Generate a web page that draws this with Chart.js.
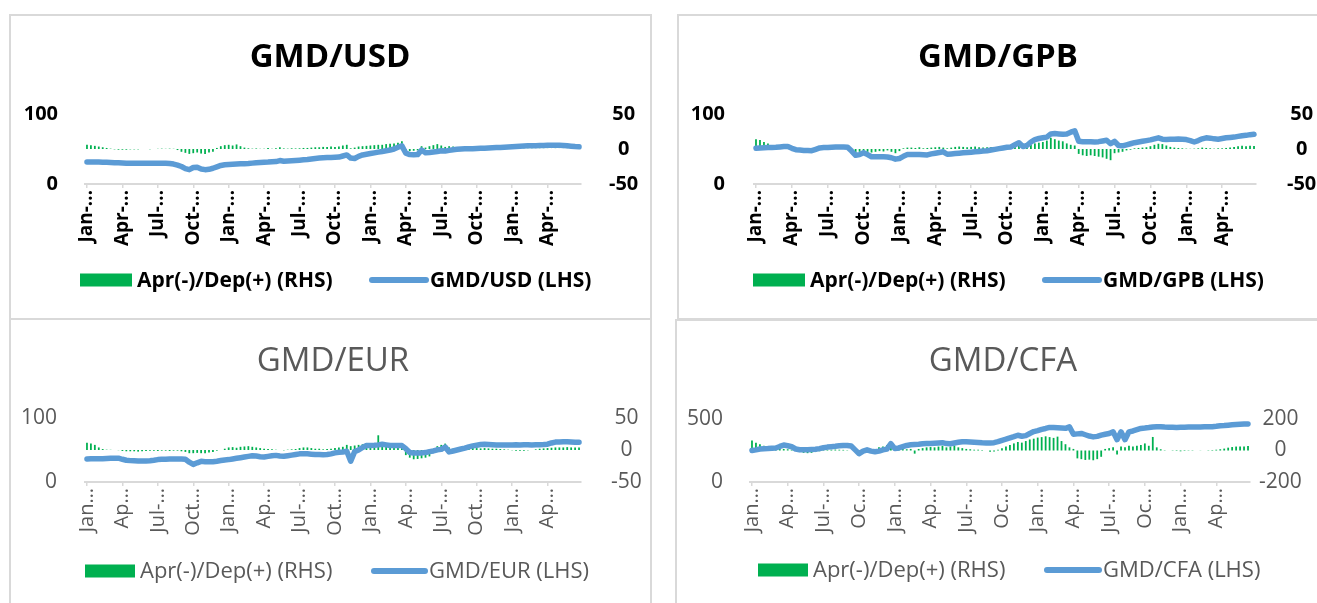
<!DOCTYPE html>
<html><head><meta charset="utf-8">
<script src="https://cdn.jsdelivr.net/npm/chart.js@4.4.1/dist/chart.umd.min.js"></script>
<style>
html,body{margin:0;padding:0;background:#fff;width:1317px;height:603px;overflow:hidden;position:relative}
.panel{position:absolute;box-sizing:border-box;border:2px solid #d9d9d9;background:#fff}
canvas{position:absolute}
</style></head><body>
<div class="panel" style="left:9px;top:14px;width:643px;height:306px"></div>
<div class="panel" style="left:677px;top:14px;width:660px;height:306px"></div>
<div class="panel" style="left:9px;top:318px;width:643px;height:300px"></div>
<div class="panel" style="left:675px;top:319px;width:660px;height:300px"></div>
<canvas id="c1" width="643" height="304" style="left:9px;top:14px"></canvas>
<canvas id="c2" width="641" height="304" style="left:677px;top:14px"></canvas>
<canvas id="c3" width="643" height="290" style="left:9px;top:318px"></canvas>
<canvas id="c4" width="643" height="290" style="left:675px;top:319px"></canvas>
<script>
// ---------- categories: 3 observations per month, Jan (year 1) to Jun (year 4) ----------
const monthNames = ['Jan','Feb','Mar','Apr','May','Jun','Jul','Aug','Sep','Oct','Nov','Dec'];
const categories = [];
for (let mi = 0; mi < 42; mi++) {
  for (let k = 1; k <= 3; k++) {
    categories.push(monthNames[mi % 12] + '-Y' + (1 + Math.floor(mi / 12)) + ' p' + k);
  }
}
// ---------- tick labels (every quarter) ----------
const ticksTop = ['Jan-…','Apr-…','Jul-…','Oct-…','Jan-…','Apr-…','Jul-…','Oct-…','Jan-…','Apr-…','Jul-…','Oct-…','Jan-…','Apr-…'];
const ticksEur = ['Jan…','Ap…','Jul-…','Oct…','Jan…','Ap…','Jul-…','Oct…','Jan…','Ap…','Jul-…','Oct…','Jan…','Ap…'];
const ticksCfa = ['Jan…','Ap…','Jul-…','Oc…','Jan…','Ap…','Jul-…','Oc…','Jan…','Ap…','Jul-…','Oc…','Jan…','Ap…'];

// ---------- GMD/USD ----------
const usdRate = [
31.5,31.5,31.4, 31.3,31.2,31, 30.8,30.5,30.2,
30,29.8,29.7, 29.7,29.6,29.6, 29.6,29.6,29.6, 29.6,29.5,29.5,
29.3,28.5,27, 25,22,20.5, 23.5,24,21.5, 20.5,21,22.5, 24.5,26.5,27.5,
28,28.3,28.5, 28.8,29,29.2, 29.8,30.5,30.8, 31,31.3,31.8, 32,33.5,32.5,
32.8,33.2,33.6, 34,34.5,35, 35.8,36.5,37, 37.5,37.8,38, 38.2,38.5,40,
41.5,37,36.5, 39.5,41.5,42.5, 43.5,44.5,45.5, 46.5,47.5,48.5, 50,52.5,54.5,
44,42,41.8, 42,48.5,44.5, 45,45.8,46.5, 47.5,47,48, 49,49.5,50,
50.2,50.3,50.5, 50.8,51,51.2, 51.5,51.8,52, 52.3,52.6,53, 53.3,53.6,54,
54.2,54.5,54.7, 54.8,55,55, 55.2,55.3,55.3, 55.2,55,54.5, 54,53.5,53.2];
const usdChange = [
6,5.5,4.5, 3.5,2.5,1.5, 0.5,-0.5,-1, -1,-1,-0.5, -0.5,-0.5,0, 0,-0.3,0,
0.3,0.5,0.3, 0.5,0.3,-1.5, -4,-5.5,-7, -6,-5,-6.5, -7,-5,-4, 1.5,4,5.5,
6,5,6.5, 4,2,1, 0.5,0.8,0.3, 0.5,1.5,0.5, 1,2.5,0.8, 0.5,1,0.8,
1,1.5,1.5, 2,2.5,2.5, 3,3,3.5, 3,3.5,5, 6,1,2, 3.5,4,4.5,
5,5.5,6, 6,7,7.5, 8,9,11, -2,-3,-2.5, -2,4,2, 4,5.5,7,
5,3,4, 3.5,3,2.5, 3,2.5,2, 1.5,1,1, 0.8,0.5,0.5, 0.3,0.5,0.3,
0.3,0.5,0.3, 0.2,0.3,0.3, 0.2,0.3,0.2, 0.2,0.1,0.2, 0.1,0.1,0.2, 0.1,0.2,0.1];

// ---------- GMD/GPB ----------
const gpbRate = [
51,51.5,51.8, 52,52.3,52.5, 53,53.5,53.5, 51,49,48.5, 48,47.8,47.6, 49.5,51.5,52,
52,52.5,52.8, 53,53,52.5, 47,41,42, 44.5,42,39, 38.8,39,38.8, 38.5,37.5,35.5,
36.5,39.5,42, 42,42.3,42, 41.8,41.5,43, 44,45,46, 42.5,43,43.5, 44,44.5,45,
45.5,46,46.5, 47,47.5,48.5, 49.5,50.5,51.5, 52.5,53,56, 59,53.5,55, 60,63.5,65,
66,67,71.5, 72,71.5,71, 71.5,74,76, 61,60.5,60.5, 60.3,60,60.5, 61.5,62.5,57.5,
61,55,54.5, 56,57.5,59, 60,61,62, 63,64.5,66, 64,63.5,63.8, 64,64.2,64,
63.5,62,60, 62,64.5,66, 65.5,64.5,64, 65,66,66.5, 67,68,69, 69.5,70.5,71];
const gpbChange = [
14,13,10, 8,4,2, 1,0.5,0.5, 0.3,0,-0.5, -0.5,-1,-1, 0.5,1,0.5,
0.5,0.3,0.5, 0.5,0.3,0, -3,-5,-4, -3,-4,-5, -4,-3,-3.5, -2,-4,-6,
-3,1,2, 2,1.5,2.5, 1,1.5,2, 2.5,3,2, 1,2,3, 3.5,3,2.5,
3,3.5,2.5, 2,2.5,3, 2,2,2.5, 2,3,4, 6,1,3, 6,8,9,
10,12,16, 14,12,11, 8,6,5, -7,-9,-10, -9,-10,-11, -12,-14,-16,
-6,-5,-4, -2,-1,1, 1.5,2,2.5, 4,6,7.5, 7,5,3, 2,1.5,1,
0.5,0.3,0.5, 1,2,1.5, 1,0.5,1, 1,1.5,2, 3,4,4.5, 4,4.5,4.3];

// ---------- GMD/EUR ----------
const eurRate = [
36,36.2,36.3, 36.4,36.5,36.8, 37,37.2,37.2, 35.5,34,33.4, 33.2,33,32.8, 32.8,33.2,34,
35,35.4,35.5, 35.8,36,36, 36,35.5,31, 27.5,30,32.3, 31.8,31.5,31.7, 32.5,33.5,34.5,
35,36,37, 38,39,40, 41,40.5,39.5, 39,40,41, 41.6,40.5,40.1, 41,42,43,
44,44.3,44, 43.5,43,42.8, 42.7,43,44, 45.5,46.4,47, 47.9,32.5,47.5, 50,54,56.9,
57.2,57.5,58, 59.1,58,57, 57,57.2,57, 52,46,45.3, 45.3,45.5,46, 47.5,48.5,50.3,
51,54.7,47, 48.5,50,51.5, 53,55,56.5, 57.5,58.5,58.9, 58.5,58.2,58, 57.8,58,57.9,
58,58.1,58, 58.2,58.3,58, 58.2,58.3,58.5, 59,61,62.4, 62.6,62.8,63, 62.5,62,62];
const eurChange = [
11.5,10,8, 4,1.5,0.5, 0.3,0,-0.3, -1.5,-2,-2, -2,-2.5,-2, -1.5,-1,-1,
-1.5,-1,-1, -1.5,-1,-1, -2,-3,-5, -5,-4.5,-5, -5,-4,-3, -1,0,2,
4,4.5,3.5, 5,5.5,6, 5,4,3, 2,1.5,1, 0.5,0,-0.5, 0.5,1,1.5,
3,4,4, 3,2,2, 1,1.5,2, 3,4,5, 8,6,7, 8,9,9,
9,9,23, 9,8.5,9, 8,7,6, -8,-12,-14.5, -14,-13,-12, -10,-2,6,
8,10,4, 2,2,2.5, 3,3,3.5, 3,2.5,3, 2.5,2,2, 1.5,1,0.5,
-0.5,-1,-1, -1,-0.5,0, 1,2,2.5, 3,3.5,4, 4,4,4.5, 4,4,4];

// ---------- GMD/CFA ----------
const cfaRate = [
250,255,262, 264,265,268, 270,282,293, 288,280,262, 256,255,256, 258,260,265,
272,277,280, 283,287,290, 290,285,255, 225,245,255, 245,240,245, 255,261,304,
265,270,280, 290,295,298, 300,304,305, 306,308,310, 312,305,304, 310,315,320,
320,318,316, 314,311,310, 309,312,320, 331,340,350, 360,371,363, 368,385,400,
408,418,425, 433,432,430, 428,426,438, 379,382,385, 375,365,358, 362,372,379,
385,398,336, 398,336,398, 405,415,425, 428,432,437, 438,438,436, 435,434,433,
434,435,436, 436,437,437, 438,438,439, 442,446,448, 451,454,456, 458,460,461];
const cfaChange = [
64,50,40, 30,20,20, 15,10,10, 8,5,0, -10,-15,-17, -15,-10,-5,
3,5,5, 6,5,4, 2,0,-5, -10,-8,-10, -5,10,20, 25,35,43,
15,10,12, 8,10,-20, 10,15,20, 22,20,25, 30,20,25, 32,20,15,
10,8,5, 5,3,0, -8,-6,5, 15,25,35, 45,54,50, 60,70,75,
82,85,90, 85,80,88, 60,40,20, 10,-50,-55, -60,-58,-62, -55,-40,10,
15,20,-25, 25,20,30, 25,30,35, 45,30,86, 20,8,2, 0,-2,-3,
-5,-3,-2, -2,0,-1, 0,2,3, 5,8,12, 18,22,25, 25,26,28];

const seriesLabelsBar = 'Apr(-)/Dep(+) (RHS)';

// ---------- styling / layout ----------
const GREEN = '#00B050', BLUE = '#5B9BD5';
const FONT = "'Open Sans', 'Noto Sans', sans-serif";

const decor = {
  id: 'decor',
  afterDraw(chart, args, o) {
    const ctx = chart.ctx;
    ctx.save();
    ctx.fillStyle = o.color;
    ctx.font = o.titleFont;
    ctx.textAlign = 'center';
    ctx.textBaseline = 'middle';
    ctx.fillText(o.title, o.titleX, o.titleY);
    ctx.font = o.legendFont;
    ctx.textAlign = 'left';
    ctx.fillStyle = GREEN;
    ctx.fillRect(o.boxX, o.legY - 6.5, o.boxW, 13);
    ctx.fillStyle = o.color;
    ctx.fillText(chart.data.datasets[1].label, o.boxX + o.boxW + 5, o.legY + 1);
    ctx.strokeStyle = BLUE;
    ctx.lineWidth = 6;
    ctx.lineCap = 'round';
    ctx.beginPath();
    ctx.moveTo(o.lineX1, o.legY);
    ctx.lineTo(o.lineX2, o.legY);
    ctx.stroke();
    ctx.fillText(chart.data.datasets[0].label, o.lineX2 + 4, o.legY + 1);
    ctx.restore();
  }
};

function makeChart(p) {
  const bold = p.bold;
  const color = bold ? '#000000' : '#595959';
  const weight = bold ? 'bold' : 'normal';
  const ox = p.canvasX, oy = p.canvasY;
  const cw = p.w, ch = p.h;
  const tickCol = (c) => (c.index % 9 === 0 ? '#d9d9d9' : 'rgba(0,0,0,0)');
  new Chart(document.getElementById(p.id), {
    type: 'bar',
    data: {
      labels: categories,
      datasets: [
        { type: 'line', label: p.lineLabel, data: p.rate, yAxisID: 'y', order: 0,
          borderColor: BLUE, backgroundColor: BLUE, borderWidth: 5.5, pointRadius: 0,
          pointHoverRadius: 0, tension: 0, borderCapStyle: 'round', borderJoinStyle: 'round', fill: false },
        { type: 'bar', label: seriesLabelsBar, data: p.change, yAxisID: 'y1', order: 1,
          backgroundColor: GREEN, borderWidth: 0, barPercentage: 0.45, categoryPercentage: 1.0 }
      ]
    },
    options: {
      responsive: false, animation: false, devicePixelRatio: 1,
      layout: { padding: { top: p.areaT - oy, left: 0, right: 0, bottom: 0 } },
      plugins: {
        legend: { display: false }, title: { display: false }, tooltip: { enabled: false },
        decor: {
          color: color,
          title: p.title, titleFont: weight + ' ' + p.titleSize + 'px ' + FONT,
          titleX: p.titleX - ox, titleY: p.titleY - oy,
          legendFont: weight + ' ' + p.legendSize + 'px ' + FONT,
          boxX: p.boxX - ox, boxW: p.boxW, legY: p.legY - oy,
          lineX1: p.lineX1 - ox, lineX2: p.lineX2 - ox
        }
      },
      scales: {
        x: {
          type: 'category', offset: true,
          grid: { display: true, offset: false, drawOnChartArea: false, drawTicks: true, tickLength: 4,
                  color: tickCol, tickColor: tickCol, lineWidth: 1.5 },
          border: { display: true, color: '#d9d9d9', width: 2 },
          ticks: { autoSkip: false, minRotation: 90, maxRotation: 90, padding: 2,
                   color: color, font: { family: FONT, size: p.xTickSize, weight: weight },
                   callback: (v, i) => (i % 9 === 0 ? p.tickLabels[i / 9] : '') },
          afterFit: (s) => { s.height = (oy + ch) - p.areaB; }
        },
        y: {
          position: 'left', min: 0, max: p.lmax,
          ticks: { stepSize: p.lmax, padding: p.lpad, color: color, crossAlign: 'near',
                   font: { family: FONT, size: p.yTickSize, weight: weight } },
          grid: { display: false }, border: { display: false },
          afterFit: (s) => { s.width = p.areaL - ox; }
        },
        y1: {
          position: 'right', min: -p.rmax, max: p.rmax,
          ticks: { stepSize: p.rmax, padding: p.rpad, color: color, crossAlign: 'center',
                   font: { family: FONT, size: p.yTickSize, weight: weight } },
          grid: { display: false }, border: { display: false },
          afterFit: (s) => { s.width = (ox + cw) - p.areaR; }
        }
      }
    },
    plugins: [decor]
  });
}

const topStyle = { titleSize: 33, legendSize: 21, yTickSize: 20, xTickSize: 19, boxW: 52, bold: true };
const bottomStyle = { titleSize: 33, legendSize: 22, yTickSize: 21, xTickSize: 20, boxW: 50, bold: false };

makeChart(Object.assign({}, topStyle, {
  id: 'c1', canvasX: 9, canvasY: 14, w: 643, h: 304,
  areaL: 85, areaR: 581, areaT: 114, areaB: 184, lmax: 100, rmax: 50, lpad: 19, rpad: 20,
  title: 'GMD/USD', titleX: 330, titleY: 58, lineLabel: 'GMD/USD (LHS)',
  boxX: 80, legY: 280, lineX1: 372, lineX2: 426,
  rate: usdRate, change: usdChange, tickLabels: ticksTop
}));
makeChart(Object.assign({}, topStyle, {
  id: 'c2', canvasX: 677, canvasY: 14, w: 641, h: 304,
  areaL: 754, areaR: 1256, areaT: 114, areaB: 184, lmax: 100, rmax: 50, lpad: 21, rpad: 23,
  title: 'GMD/GPB', titleX: 998, titleY: 58, lineLabel: 'GMD/GPB (LHS)',
  boxX: 753, legY: 280, lineX1: 1045, lineX2: 1099,
  rate: gpbRate, change: gpbChange, tickLabels: ticksTop
}));
makeChart(Object.assign({}, bottomStyle, {
  id: 'c3', canvasX: 9, canvasY: 318, w: 643, h: 290,
  areaL: 85, areaR: 581, areaT: 418, areaB: 482, lmax: 100, rmax: 50, lpad: 20, rpad: 22,
  title: 'GMD/EUR', titleX: 333, titleY: 362, lineLabel: 'GMD/EUR (LHS)',
  boxX: 85, legY: 571, lineX1: 374, lineX2: 425,
  rate: eurRate, change: eurChange, tickLabels: ticksEur
}));
makeChart(Object.assign({}, bottomStyle, {
  id: 'c4', canvasX: 675, canvasY: 319, w: 643, h: 290,
  areaL: 750, areaR: 1250, areaT: 419, areaB: 482, lmax: 500, rmax: 200, lpad: 19, rpad: 1,
  title: 'GMD/CFA', titleX: 1003, titleY: 362, lineLabel: 'GMD/CFA (LHS)',
  boxX: 758, legY: 570, lineX1: 1047, lineX2: 1099,
  rate: cfaRate, change: cfaChange, tickLabels: ticksCfa
}));
</script>
</body></html>
